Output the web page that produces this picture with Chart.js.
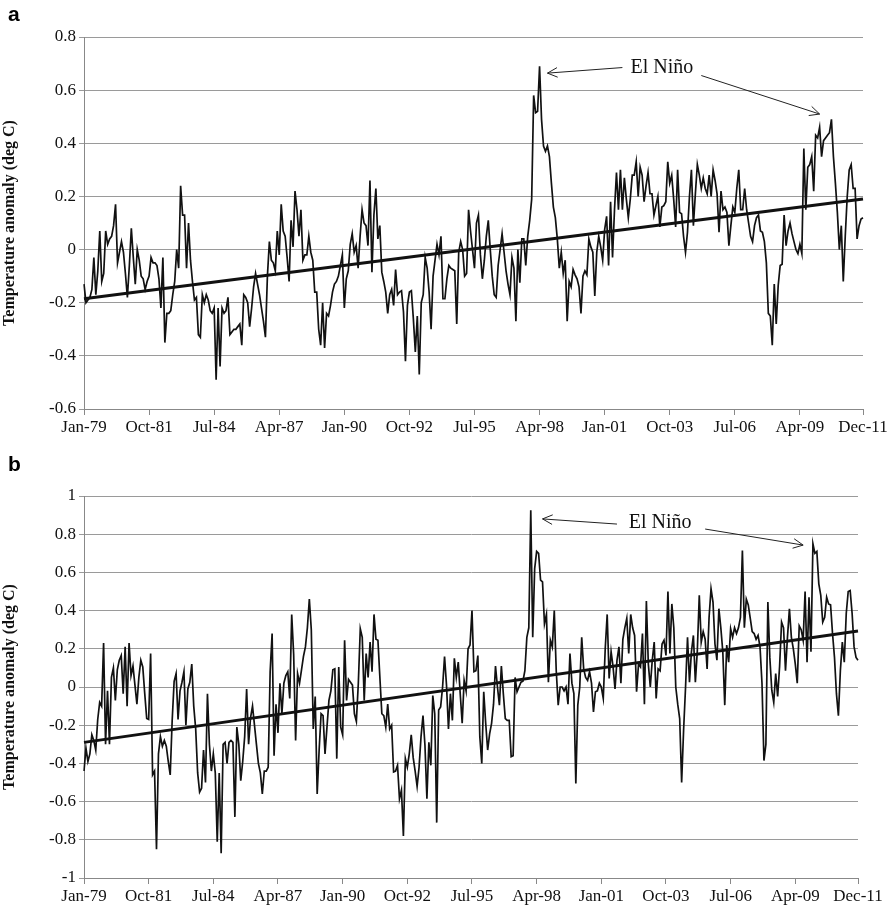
<!DOCTYPE html>
<html>
<head>
<meta charset="utf-8">
<script src="https://cdn.jsdelivr.net/npm/chart.js@4.4.1/dist/chart.umd.min.js"></script>
<style>
  body { margin: 0; background: #fff; }
  #wrap { position: relative; width: 894px; height: 910px; }
  canvas { position: absolute; left: 0; }
  .tag { position: absolute; left: 8px; font: bold 21px 'Liberation Sans', Arial, sans-serif; }
</style>
</head>
<body>
<div id="wrap">
  <canvas id="chartA" width="894" height="445" style="top:0"></canvas>
  <canvas id="chartB" width="894" height="460" style="top:450px"></canvas>
  <div class="tag" style="top:2px">a</div>
  <div class="tag" style="top:452px">b</div>
</div>
<script>
const monthNames = ['Jan','Feb','Mar','Apr','May','Jun','Jul','Aug','Sep','Oct','Nov','Dec'];
const months = [];
for (let yr = 1979; yr <= 2011; yr++) {
  for (const m of monthNames) months.push(m + '-' + String(yr % 100).padStart(2, '0'));
}
const xTicks = ['Jan-79','Oct-81','Jul-84','Apr-87','Jan-90','Oct-92','Jul-95','Apr-98','Jan-01','Oct-03','Jul-06','Apr-09','Dec-11'];

// panel a, monthly anomaly (deg C), Jan-79 .. Dec-11
const anomalyA = [
  -0.13,-0.20,-0.19,-0.18,-0.15,-0.03,-0.17,-0.08,0.07,-0.12,
  -0.09,0.07,0.02,0.04,0.05,0.09,0.17,-0.05,-0.01,0.03,
  -0.01,-0.09,-0.18,-0.06,0.08,-0.03,-0.13,0.00,-0.04,-0.10,
  -0.11,-0.15,-0.12,-0.10,-0.03,-0.05,-0.05,-0.06,-0.11,-0.22,
  -0.03,-0.35,-0.24,-0.24,-0.23,-0.17,-0.12,0.00,-0.07,0.24,
  0.13,0.13,-0.07,0.10,-0.04,-0.12,-0.19,-0.18,-0.32,-0.33,
  -0.17,-0.20,-0.17,-0.19,-0.23,-0.24,-0.22,-0.49,-0.22,-0.44,
  -0.22,-0.24,-0.23,-0.18,-0.32,-0.31,-0.30,-0.30,-0.29,-0.28,
  -0.36,-0.17,-0.18,-0.20,-0.29,-0.22,-0.14,-0.09,-0.13,-0.17,
  -0.22,-0.27,-0.33,-0.10,0.03,-0.04,-0.05,-0.08,0.07,-0.02,
  0.17,0.07,0.05,-0.03,-0.12,0.11,0.01,0.22,0.15,0.05,
  0.15,-0.04,-0.02,-0.02,0.05,-0.01,-0.04,-0.16,-0.16,-0.30,
  -0.36,-0.20,-0.37,-0.24,-0.25,-0.21,-0.16,-0.13,-0.12,-0.10,
  -0.06,-0.02,-0.22,-0.11,-0.08,0.02,0.06,-0.01,0.015,-0.07,
  0.05,0.15,0.10,0.09,0.015,0.26,-0.085,0.13,0.23,0.04,
  0.09,-0.085,-0.12,-0.16,-0.24,-0.17,-0.15,-0.21,-0.075,-0.17,
  -0.16,-0.155,-0.235,-0.42,-0.21,-0.16,-0.155,-0.26,-0.385,-0.25,
  -0.47,-0.20,-0.17,-0.03,-0.07,-0.16,-0.30,-0.10,-0.04,0.02,
  -0.02,0.05,-0.185,-0.185,-0.11,-0.06,-0.07,-0.075,-0.08,-0.28,
  -0.01,0.03,0.00,-0.10,-0.09,0.15,0.07,0.00,-0.07,0.10,
  0.13,-0.02,-0.11,-0.04,0.05,0.11,0.00,-0.10,-0.17,-0.18,
  -0.06,0.00,0.06,-0.01,-0.08,-0.13,-0.17,-0.03,-0.07,-0.27,
  0.00,-0.125,0.04,0.04,-0.06,0.05,0.11,0.19,0.58,0.515,
  0.52,0.69,0.49,0.39,0.37,0.39,0.35,0.25,0.16,0.12,
  0.04,-0.07,-0.01,-0.09,-0.04,-0.27,-0.12,-0.14,-0.075,-0.095,
  -0.11,-0.14,-0.24,-0.10,-0.08,-0.095,0.04,0.01,-0.01,-0.175,
  -0.01,0.05,0.01,-0.04,0.075,0.125,-0.06,0.18,-0.03,0.15,
  0.29,0.15,0.30,0.15,0.27,0.19,0.12,0.19,0.28,0.28,
  0.33,0.20,0.31,0.28,0.18,0.24,0.29,0.21,0.21,0.13,
  0.165,0.20,0.085,0.16,0.165,0.18,0.33,0.25,0.28,0.19,
  0.085,0.30,0.14,0.135,0.05,-0.01,0.065,0.20,0.30,0.09,
  0.21,0.32,0.28,0.23,0.27,0.23,0.21,0.28,0.20,0.30,
  0.26,0.21,0.065,0.22,0.15,0.16,0.14,0.015,0.09,0.16,
  0.14,0.23,0.30,0.15,0.15,0.23,0.15,0.10,0.05,0.03,
  0.09,0.12,0.13,0.07,0.065,0.03,-0.05,-0.24,-0.25,-0.36,
  -0.13,-0.28,-0.135,-0.06,-0.055,0.13,0.015,0.07,0.10,0.06,
  0.03,0.00,-0.015,0.02,-0.015,0.38,0.15,0.31,0.32,0.35,
  0.22,0.43,0.42,0.46,0.35,0.41,0.42,0.43,0.44,0.49,
  0.35,0.25,0.14,0.00,0.09,-0.12,0.05,0.20,0.30,0.32,
  0.23,0.23,0.04,0.09,0.115,0.12
];

// panel b, monthly anomaly (deg C)
const anomalyB = [
  -0.44,-0.32,-0.39,-0.35,-0.25,-0.28,-0.33,-0.17,-0.08,-0.10,
  0.23,-0.30,-0.02,-0.30,0.05,0.10,-0.07,0.09,0.14,0.165,
  -0.035,0.21,-0.10,0.23,0.06,0.11,0.01,-0.09,0.05,0.14,
  0.105,-0.035,-0.165,-0.17,0.175,-0.46,-0.44,-0.85,-0.35,-0.26,
  -0.31,-0.28,-0.31,-0.39,-0.46,-0.175,0.03,0.07,-0.17,-0.02,
  0.025,0.08,-0.20,-0.01,0.025,0.12,-0.10,-0.22,-0.45,-0.55,
  -0.53,-0.33,-0.50,-0.035,-0.30,-0.44,-0.35,-0.45,-0.81,-0.45,
  -0.87,-0.30,-0.29,-0.40,-0.29,-0.28,-0.29,-0.68,-0.21,-0.30,
  -0.49,-0.39,-0.26,-0.01,-0.30,-0.16,-0.10,-0.20,-0.30,-0.40,
  -0.45,-0.56,-0.44,-0.44,-0.42,0.08,0.28,-0.36,-0.09,-0.24,
  0.02,-0.14,0.02,0.06,0.08,-0.06,0.38,0.17,-0.28,0.07,
  0.02,0.09,0.16,0.21,0.31,0.46,0.30,-0.22,-0.05,-0.56,
  -0.33,-0.14,-0.15,-0.35,-0.21,-0.07,-0.02,0.09,0.095,-0.375,
  0.105,-0.21,-0.25,0.245,-0.07,0.04,0.025,0.01,-0.14,-0.18,
  0.02,0.305,0.26,-0.07,0.175,0.05,0.235,0.08,0.38,0.25,
  0.245,0.05,-0.14,-0.15,-0.21,-0.09,-0.22,-0.20,-0.445,-0.44,
  -0.41,-0.585,-0.54,-0.78,-0.375,-0.42,-0.35,-0.25,-0.37,-0.44,
  -0.52,-0.42,-0.26,-0.15,-0.305,-0.585,-0.29,-0.41,-0.045,-0.14,
  -0.71,-0.12,-0.105,0.0,0.16,0.01,-0.22,-0.035,-0.175,0.15,
  0.05,0.13,-0.035,-0.19,0.035,-0.02,0.2,0.22,0.40,0.08,
  0.085,0.165,-0.26,-0.40,-0.025,-0.19,-0.33,-0.245,-0.19,-0.09,
  0.11,0.0,-0.095,0.11,-0.035,-0.165,-0.175,-0.175,-0.365,-0.36,
  0.05,-0.025,0.0,0.025,0.03,0.085,0.26,0.31,0.925,0.26,
  0.62,0.71,0.70,0.56,0.55,0.33,0.38,0.025,0.245,0.21,
  0.40,0.085,-0.095,0.0,0.0,-0.02,0.0,-0.09,0.175,0.02,
  -0.035,-0.505,-0.095,0.0,0.26,0.095,0.05,0.035,0.08,0.02,
  -0.13,-0.025,-0.02,0.02,0.0,-0.06,0.2,0.38,0.045,0.185,
  0.105,-0.01,0.14,0.21,0.02,0.25,0.31,0.36,0.175,0.38,
  0.31,0.27,-0.025,0.12,0.105,0.28,-0.09,0.45,0.12,0.0,
  0.14,0.235,-0.06,0.095,0.085,0.225,0.245,0.165,0.50,0.175,
  0.435,0.31,0.0,-0.09,-0.165,-0.5,-0.225,0.0,0.26,0.025,
  0.185,0.27,0.025,0.19,0.48,0.235,0.29,0.25,0.095,0.365,
  0.515,0.445,0.225,0.14,0.41,0.31,0.185,-0.095,0.22,0.13,
  0.305,0.26,0.31,0.28,0.31,0.365,0.715,0.31,0.46,0.43,
  0.36,0.29,0.28,0.25,0.27,0.21,0.02,-0.385,-0.30,0.445,
  0.155,-0.017,-0.08,0.07,-0.05,0.11,0.34,0.31,0.085,0.26,
  0.41,0.26,0.2,0.12,0.02,0.32,0.3,0.245,0.50,0.13,
  0.47,0.185,0.75,0.70,0.71,0.54,0.48,0.34,0.365,0.47,
  0.435,0.43,0.28,0.155,-0.035,-0.15,0.085,0.235,0.13,0.385,
  0.50,0.505,0.385,0.21,0.155,0.14
];

// linear trend end values, Jan-79 and Dec-11
const trendA = [-0.185, 0.19];
const trendB = [-0.29, 0.293];

// El Nino labels: [month index, value]
const ninoA = { text: [293, 0.685], arrows: [[[273, 0.685], [235, 0.664]], [[313, 0.655], [373, 0.51]]] };
const ninoB = { text: [294, 0.86], arrows: [[[272, 0.853], [234, 0.88]], [[317, 0.827], [367, 0.743]]] };

const serif = "'Liberation Serif', 'Times New Roman', serif";

function drawArrow(ctx, from, to) {
  const ang = Math.atan2(to[1] - from[1], to[0] - from[0]);
  ctx.beginPath();
  ctx.moveTo(from[0], from[1]);
  ctx.lineTo(to[0], to[1]);
  for (const s of [-1, 1]) {
    ctx.moveTo(to[0], to[1]);
    ctx.lineTo(to[0] - 11 * Math.cos(ang + s * 0.45), to[1] - 11 * Math.sin(ang + s * 0.45));
  }
  ctx.stroke();
}

function ninoPlugin(cfg) {
  return {
    id: 'nino',
    afterDatasetsDraw(chart) {
      const ctx = chart.ctx;
      const x = chart.scales.x, y = chart.scales.y;
      const px = p => [x.getPixelForValue(p[0]), y.getPixelForValue(p[1])];
      ctx.save();
      ctx.fillStyle = '#111';
      ctx.font = '20px ' + serif;
      ctx.textAlign = 'center';
      ctx.textBaseline = 'middle';
      const t = px(cfg.text);
      ctx.fillText('El Niño', t[0], t[1]);
      ctx.strokeStyle = '#222';
      ctx.lineWidth = 1;
      cfg.arrows.forEach(a => drawArrow(ctx, px(a[0]), px(a[1])));
      ctx.restore();
    }
  };
}

function makeConfig(values, trend, yMin, yMax, pad, xHeight) {
  return {
    type: 'line',
    data: {
      labels: months,
      datasets: [{
        data: [{ x: months[0], y: trend[0] }, { x: months[months.length - 1], y: trend[1] }],
        borderColor: '#111',
        borderWidth: 3,
        pointRadius: 0,
        fill: false
      }, {
        data: values,
        borderColor: '#111',
        borderWidth: 1.7,
        pointRadius: 0,
        tension: 0,
        fill: false
      }]
    },
    options: {
      responsive: false,
      animation: false,
      events: [],
      layout: { padding: pad },
      plugins: { legend: { display: false }, tooltip: { enabled: false } },
      scales: {
        x: {
          type: 'category',
          offset: false,
          afterFit: s => { s.height = xHeight; },
          grid: { drawOnChartArea: false, drawTicks: true, tickLength: 6, color: '#888' },
          border: { color: '#888' },
          ticks: {
            autoSkip: false,
            maxRotation: 0,
            padding: 2,
            color: '#111',
            font: { family: serif, size: 17 },
            callback: function (v) {
              const lab = this.getLabelForValue(v);
              return xTicks.includes(lab) ? lab : null;
            }
          }
        },
        y: {
          min: yMin,
          max: yMax,
          afterFit: s => { s.width = 84; },
          grid: { color: '#9a9a9a', tickLength: 5 },
          border: { color: '#888' },
          ticks: {
            stepSize: 0.2,
            padding: 3,
            color: '#111',
            font: { family: serif, size: 17 },
            callback: v => String(Math.round(v * 10) / 10)
          },
          title: {
            display: true,
            text: 'Temperature anomaly (deg C)',
            color: '#111',
            font: { family: serif, size: 16, weight: 'bold' },
            padding: { top: 0, bottom: 4 }
          }
        }
      }
    },
    plugins: []
  };
}

const configA = makeConfig(anomalyA, trendA, -0.6, 0.8, { top: 37, right: 31, bottom: 0, left: 0 }, 36);
configA.plugins.push(ninoPlugin(ninoA));
const configB = makeConfig(anomalyB, trendB, -1, 1, { top: 46, right: 36, bottom: 0, left: 0 }, 32);
configB.plugins.push(ninoPlugin(ninoB));

const chartA = new Chart(document.getElementById('chartA'), configA);
const chartB = new Chart(document.getElementById('chartB'), configB);
</script>
</body>
</html>
